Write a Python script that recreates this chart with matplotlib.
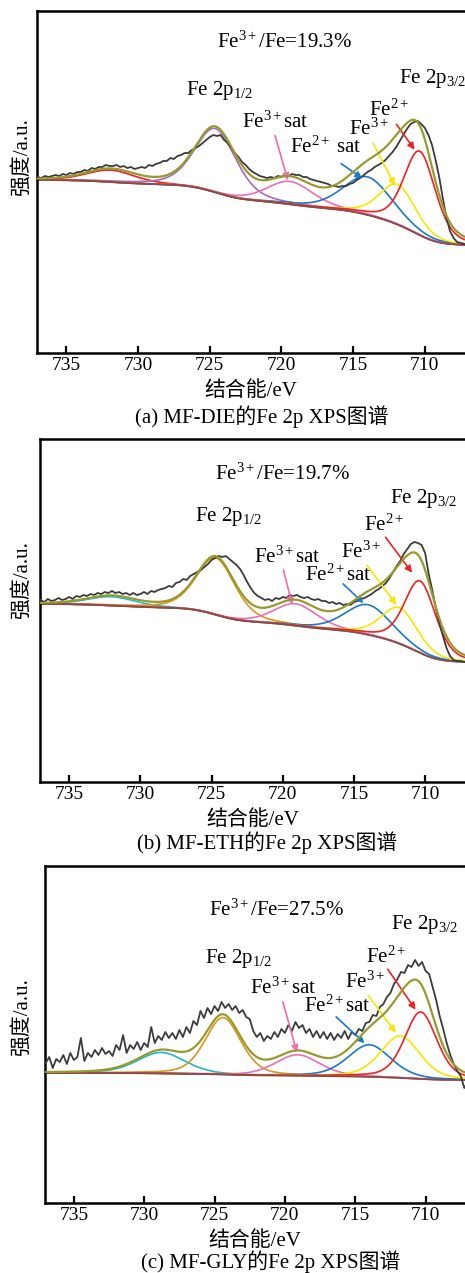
import numpy as np
import matplotlib
matplotlib.use('Agg')
import matplotlib.pyplot as plt

plt.rcParams['font.family'] = ['Liberation Serif', 'Noto Sans CJK SC']
plt.rcParams['mathtext.fontset'] = 'custom'
plt.rcParams['mathtext.rm'] = 'Liberation Serif'
plt.rcParams['mathtext.it'] = 'Liberation Serif:italic'
plt.rcParams['mathtext.bf'] = 'Liberation Serif:bold'

# measured spectra, 737 -> 707 eV in 0.25 eV steps
energy_raw = np.linspace(737, 707, 121)
raw_die = [176, 175, 177, 176, 177, 178, 177, 179, 178, 180, 179, 181, 181, 183, 182, 185,
           184, 186, 186, 188, 187, 187, 188, 186, 187, 185, 186, 184, 185, 186, 185, 188,
           187, 189, 190, 192, 192, 195, 194, 197, 198, 200, 200, 203, 205, 207, 210, 213,
           216, 218, 217, 218, 213, 210, 205, 200, 196, 191, 188, 184, 181, 179, 177, 176,
           175, 176, 175, 177, 176, 178, 177, 179, 178, 178, 176, 176, 174, 173, 172, 171,
           170, 169, 167, 167, 166, 167, 167, 169, 170, 173, 175, 178, 181, 183, 186, 188,
           190, 193, 197, 201, 206, 212, 218, 224, 229, 231, 232, 229, 225, 218, 208, 193,
           176, 155, 136, 122, 115, 111, 110, 109, 108]
raw_eth = [182, 180, 183, 181, 182, 184, 182, 183, 185, 183, 186, 185, 187, 186, 188, 187,
           189, 188, 190, 189, 191, 189, 190, 188, 189, 187, 189, 187, 188, 190, 188, 191,
           190, 192, 193, 194, 196, 195, 199, 200, 203, 202, 206, 208, 210, 212, 215, 218,
           222, 224, 226, 225, 226, 223, 220, 217, 213, 207, 200, 194, 189, 186, 184, 182,
           183, 181, 184, 183, 185, 184, 187, 186, 187, 185, 184, 185, 183, 182, 183, 181,
           181, 179, 180, 178, 179, 177, 178, 177, 180, 181, 183, 184, 186, 188, 191, 193,
           196, 199, 204, 210, 216, 221, 228, 233, 238, 240, 239, 237, 229, 208, 192, 174,
           159, 146, 134, 126, 122, 121, 121, 120, 120]
raw_gly = [140, 146, 135, 144, 141, 148, 139, 150, 143, 146, 165, 142, 150, 146, 153, 148,
           155, 149, 152, 147, 158, 153, 168, 150, 158, 154, 161, 153, 160, 156, 176, 160,
           167, 163, 171, 165, 170, 164, 173, 166, 176, 170, 182, 178, 192, 185, 195, 189,
           197, 192, 201, 195, 199, 193, 197, 190, 193, 186, 184, 172, 166, 170, 162, 167,
           164, 171, 166, 174, 170, 178, 172, 181, 175, 178, 170, 174, 166, 172, 165, 171,
           164, 170, 163, 169, 165, 172, 164, 171, 168, 174, 172, 180, 181, 188, 187, 196,
           199, 206, 210, 219, 224, 231, 230, 238, 236, 243, 237, 241, 232, 229, 216, 203,
           187, 174, 160, 148, 139, 132, 127, 115, 121]

# fitted peaks: Fe2+, Fe3+, Fe2+ sat, Fe3+ sat, Fe 2p1/2, 2p1/2 sat
center_die = [710.35, 711.9, 714.0, 719.4, 724.6, 731.9]
height_die = [84, 40, 38, 23, 64, 12]
fwhm_die = [2.6, 3.0, 4.0, 3.8, 3.4, 4.0]
center_eth = [710.35, 711.8, 714.0, 719.1, 724.7, 732.0]
height_eth = [72, 36, 30, 22, 57, 9]
fwhm_eth = [2.6, 3.0, 3.8, 3.6, 3.2, 4.0]
center_gly = [710.35, 711.8, 714.0, 719.1, 724.4, 728.8]
height_gly = [67, 42, 32, 21, 57, 21]
fwhm_gly = [2.7, 3.3, 3.6, 3.7, 3.0, 4.0]
# Shirley background end points (737 eV, 707 eV)
bg_die = [173, 108]
bg_eth = [178, 120]
bg_gly = [130, 123]

ratios = ['19.3%', '19.7%', '27.5%']
captions = ['(a) MF-DIE的Fe 2p XPS图谱', '(b) MF-ETH的Fe 2p XPS图谱', '(c) MF-GLY的Fe 2p XPS图谱']

red, yellow, blue, pink = '#ee2222', '#f7e600', '#1b78c6', '#ef6db3'
purple, orange, cyan = '#a46cc0', '#d9961e', '#1fb8cf'
olive, dark, brown = '#979a2c', '#3c3c3c', '#8b4b4b'


def pvoigt(x, c, h, w, eta=0.35):
    u = (x - c) / w
    return h * (eta / (1 + 4 * u ** 2) + (1 - eta) * np.exp(-4 * np.log(2) * u ** 2))


def shirley(x, total, b_left, b_right):
    xa = x[::-1]
    ta = total[::-1]
    cum = np.concatenate([[0], np.cumsum((ta[1:] + ta[:-1]) / 2 * np.diff(xa))])
    return (b_right + (b_left - b_right) * cum / cum[-1])[::-1]


panels = [
    dict(raw=raw_die, c=center_die, h=height_die, w=fwhm_die, bg=bg_die,
         colors=[red, yellow, blue, pink, purple, red],
         rect_px=(37, 11, 353), ylab_py=157, cap_py=417, cap_px=262,
         ylim=342,
         txt=dict(ratio=(719.8, 311), p12=(724.3, 263), p32=(709.5, 275),
                  s3=(720.4, 231), s2=(716.9, 206), f3=(713.9, 224), f2=(712.5, 243)),
         arr=dict(s3=((720.5, 220), (719.5, 170)), s2=((716.0, 191), (714.2, 173)),
                  f3=((713.7, 212), (712.0, 165)), f2=((712.1, 231), (710.6, 201)))),
    dict(raw=raw_eth, c=center_eth, h=height_eth, w=fwhm_eth, bg=bg_eth,
         colors=[red, yellow, blue, pink, orange, cyan],
         rect_px=(40, 439, 782), ylab_py=580, cap_py=843, cap_px=267,
         ylim=343,
         txt=dict(ratio=(720.0, 308), p12=(723.8, 266), p32=(710.1, 284),
                  s3=(719.7, 225), s2=(716.1, 207), f3=(714.5, 230), f2=(712.9, 257)),
         arr=dict(s3=((720.0, 215), (719.3, 175)), s2=((715.9, 200), (714.2, 177)),
                  f3=((714.2, 219), (711.9, 175)), f2=((712.9, 247), (710.8, 207)))),
    dict(raw=raw_gly, c=center_gly, h=height_gly, w=fwhm_gly, bg=bg_gly,
         colors=[red, yellow, blue, pink, orange, cyan],
         rect_px=(45, 866, 1203), ylab_py=1017, cap_py=1262, cap_px=271,
         ylim=337,
         txt=dict(ratio=(720.6, 293), p12=(723.3, 244), p32=(710.1, 279),
                  s3=(720.1, 215), s2=(716.3, 197), f3=(714.3, 221), f2=(712.8, 246)),
         arr=dict(s3=((720.2, 204), (719.1, 148)), s2=((716.5, 188), (714.2, 158)),
                  f3=((714.2, 210), (712.0, 168)), f2=((712.8, 236), (710.6, 191)))),
]
sat_labels = ['Fe$^{2+}$ sat', 'Fe$^{2+}$sat', 'Fe$^{2+}$sat']

W, H = 465, 1273
fig = plt.figure(figsize=(W / 100, H / 100), dpi=100)
x = np.linspace(737, 707, 1501)

for i, p in enumerate(panels):
    left, top, bottom = p['rect_px']
    ax = fig.add_axes([left / W, (H - bottom) / H, 1 - left / W, (bottom - top) / H])

    peaks = [pvoigt(x, c, h, w) for c, h, w in zip(p['c'], p['h'], p['w'])]
    total = np.sum(peaks, axis=0)
    bg = shirley(x, total, p['bg'][0], p['bg'][1])

    ax.plot(energy_raw, p['raw'], color=dark, lw=1.3, zorder=3)
    for pk, col in zip(peaks[::-1], p['colors'][::-1]):
        ax.plot(x, bg + pk, color=col, lw=1.2, zorder=2)
    ax.plot(x, bg, color=brown, lw=1.3, zorder=2)
    ax.plot(x, bg + total, color=olive, lw=1.6, zorder=4)

    ax.set_xlim(737.05, 707.2)
    ax.set_ylim(0, p['ylim'])
    ax.set_xticks([735, 730, 725, 720, 715, 710])
    ax.set_yticks([])
    ax.tick_params(axis='x', direction='in', length=5, width=1.6, labelsize=14, pad=3)
    for s in ['left', 'bottom', 'top']:
        ax.spines[s].set_linewidth(1.8)
    ax.spines['right'].set_visible(False)
    ax.set_xlabel('结合能/eV', fontsize=15, labelpad=5)

    t = p['txt']
    fs = 15
    ax.text(*t['ratio'], 'Fe$^{3+}$/Fe=' + ratios[i], fontsize=fs, ha='center', va='center')
    ax.text(*t['p12'], 'Fe 2p$_{1/2}$', fontsize=fs, ha='center', va='center')
    ax.text(*t['p32'], 'Fe 2p$_{3/2}$', fontsize=fs, ha='center', va='center')
    ax.text(*t['s3'], 'Fe$^{3+}$sat', fontsize=fs, ha='center', va='center')
    ax.text(*t['s2'], sat_labels[i], fontsize=fs, ha='center', va='center')
    ax.text(*t['f3'], 'Fe$^{3+}$', fontsize=fs, ha='center', va='center')
    ax.text(*t['f2'], 'Fe$^{2+}$', fontsize=fs, ha='center', va='center')
    for key, col in zip(['s3', 's2', 'f3', 'f2'], [pink, blue, yellow, red]):
        tail, head = p['arr'][key]
        ax.annotate('', xy=head, xytext=tail,
                    arrowprops=dict(arrowstyle='-|>', color=col, lw=1.2, mutation_scale=10))

    fig.text(22 / W, 1 - p['ylab_py'] / H, '强度/a.u.', rotation=90, fontsize=15,
             ha='center', va='center')
    fig.text(p['cap_px'] / W, 1 - p['cap_py'] / H, captions[i], fontsize=15,
             ha='center', va='center')

fig.savefig('out.png', dpi=100)
